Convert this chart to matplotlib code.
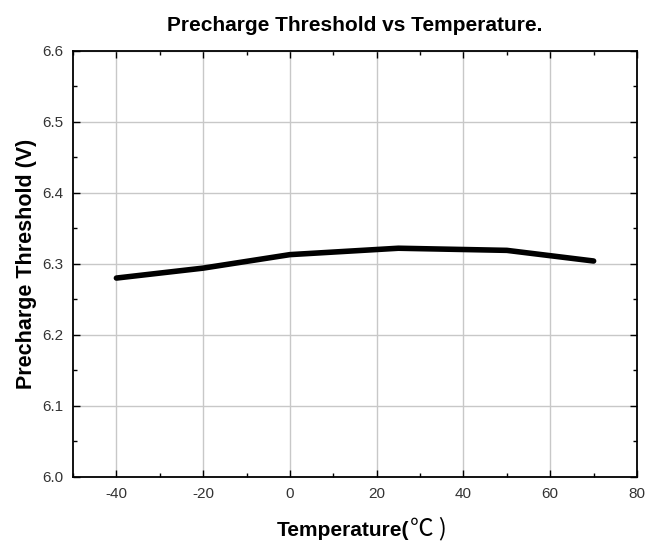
import matplotlib
matplotlib.use("Agg")
import matplotlib.pyplot as plt
from matplotlib.ticker import MultipleLocator, FormatStrFormatter

plt.rcParams['font.family'] = ['Liberation Sans', 'Noto Sans CJK JP', 'DejaVu Sans']
plt.rcParams['axes.unicode_minus'] = False

temperature = [-40, -20, 0, 25, 50, 70]
threshold = [6.280, 6.294, 6.313, 6.322, 6.319, 6.304]

fig = plt.figure(figsize=(6.52, 5.52), dpi=100)
ax = fig.add_axes([0.112, 0.136, 0.865, 0.772])

ax.plot(temperature, threshold, color='black', linewidth=4, solid_capstyle='round')

ax.set_xlim(-50, 80)
ax.set_ylim(6.0, 6.6)
ax.xaxis.set_major_locator(MultipleLocator(20))
ax.xaxis.set_minor_locator(MultipleLocator(10))
ax.yaxis.set_major_locator(MultipleLocator(0.1))
ax.yaxis.set_minor_locator(MultipleLocator(0.05))
ax.yaxis.set_major_formatter(FormatStrFormatter('%.1f'))

ax.grid(True, which='major', color='#c8c8c8', linewidth=1.0)
ax.tick_params(which='both', direction='in', top=True, right=True,
               labelsize=11, labelcolor='#333333', pad=7)
ax.tick_params(which='major', length=5, width=1)
ax.tick_params(which='minor', length=3, width=1)
for s in ax.spines.values():
    s.set_linewidth(1.3)

ax.set_title("Precharge Threshold vs Temperature.", fontsize=15, fontweight='bold', pad=14)
ax.set_ylabel("Precharge Threshold (V)", fontsize=15.5, fontweight='bold', labelpad=4)

# x label: bold text plus a lighter, larger degree sign
ax.text(0.597, -0.125, "Temperature(", transform=ax.transAxes, ha='right', va='center',
        fontsize=15, fontweight='bold')
ax.text(0.597, -0.122, "℃ )", transform=ax.transAxes, ha='left', va='center',
        fontsize=17, family=['Noto Sans CJK JP', 'DejaVu Sans'])

fig.savefig("out.png", dpi=100)
